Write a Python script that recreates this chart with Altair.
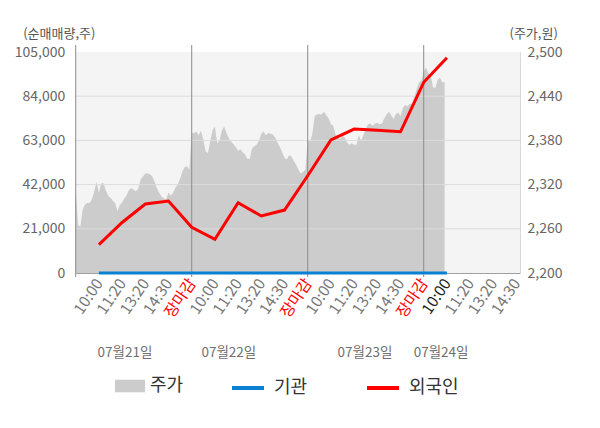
import altair as alt
import pandas as pd

FONT = "Noto Sans CJK KR"

# ---- price (주가, 원) sampled every 0.1 slot within each trading day ----
day1 = [2315, 2265, 2263, 2286, 2293, 2295, 2295, 2300, 2311, 2324,
        2309, 2322, 2322, 2312, 2305, 2302, 2298, 2295, 2284, 2292,
        2296, 2301, 2306, 2313, 2315, 2313, 2311, 2315, 2327, 2331,
        2335, 2335, 2334, 2331, 2324, 2315, 2309, 2304, 2301, 2300,
        2309, 2305, 2309, 2316, 2320, 2328, 2338, 2344, 2345, 2340]
day2 = [2390, 2390, 2392, 2387, 2393, 2381, 2365, 2363, 2379, 2394,
        2399, 2376, 2380, 2393, 2399, 2390, 2383, 2378, 2375, 2371,
        2366, 2368, 2364, 2361, 2355, 2355, 2369, 2372, 2374, 2380,
        2389, 2392, 2387, 2390, 2389, 2388, 2384, 2377, 2371, 2364,
        2356, 2354, 2360, 2358, 2352, 2347, 2340, 2335, 2337, 2340]
day3 = [2381, 2379, 2389, 2413, 2415, 2416, 2415, 2419, 2414, 2410,
        2402, 2400, 2388, 2384, 2382, 2386, 2384, 2377, 2374, 2376,
        2374, 2374, 2387, 2380, 2387, 2395, 2402, 2403, 2400, 2403,
        2404, 2402, 2403, 2410, 2415, 2419, 2414, 2409, 2416, 2418,
        2413, 2424, 2428, 2426, 2430, 2429, 2440, 2450, 2459, 2461]
day4 = [2474, 2479, 2471, 2469, 2452, 2451, 2462, 2465, 2459, 2459]
price_days = [day1, day2, day3, day4]
SLOTS_PER_DAY = 5
SAMPLE_STEP = 0.1

# ---- net buying (순매매량, 주) at each label slot ----
flow_slots = [1, 2, 3, 4, 5, 6, 7, 8, 9, 10, 11, 12, 13, 14, 15, 16]
institution = [0, 0, 0, 0, 0, 0, 0, 0, 0, 0, 0, 0, 0, 0, 0, 0]
foreign = [13500, 24000, 32800, 34200, 21700, 16000, 33400, 27100,
           29900, 46200, 63200, 68400, 67800, 67100, 90600, 102300]

# ---- axis labels ----
tick_slots = list(range(1, 20))
tick_labels = ["10:00", "11:20", "13:20", "14:30", "장마감",
               "10:00", "11:20", "13:20", "14:30", "장마감",
               "10:00", "11:20", "13:20", "14:30", "장마감",
               "10:00", "11:20", "13:20", "14:30"]
close_slots = [5, 10, 15]
current_slot = 16
day_starts = [0, 5, 10, 15]
date_labels = ["07월21일", "07월22일", "07월23일", "07월24일"]
date_pos = [2.125, 6.6, 12.47, 15.75]
left_ticks = [0, 21000, 42000, 63000, 84000, 105000]
grid_ticks = [21000, 42000, 63000, 84000]
right_ticks = [2200, 2260, 2320, 2380, 2440, 2500]

# ---- tables ----
price_rows = []
for d, vals in enumerate(price_days):
    for i, p in enumerate(vals):
        price_rows.append({"t": d * SLOTS_PER_DAY + i * SAMPLE_STEP, "price": p, "ps": "주가"})
price_df = pd.DataFrame(price_rows)

flow_rows = []
for s, v in zip(flow_slots, institution):
    flow_rows.append({"t": s, "v": v, "series": "기관"})
for s, v in zip(flow_slots, foreign):
    flow_rows.append({"t": s, "v": v, "series": "외국인"})
flow_df = pd.DataFrame(flow_rows)

grid_df = pd.DataFrame({"v": grid_ticks})
sep_df = pd.DataFrame({"t": day_starts})
date_df = pd.DataFrame({"t": date_pos, "label": date_labels})

W, H = 444.3, 221

xs = alt.Scale(domain=[0, 19.15], nice=False, zero=False)
ls = alt.Scale(domain=[0, 105000], nice=False, zero=False)
rs = alt.Scale(domain=[2200, 2500], nice=False, zero=False)

label_expr = "[" + ",".join("'%s'" % l for l in tick_labels) + "][datum.value - 1]"
close_test = " || ".join("datum.value == %d" % s for s in close_slots)

x_axis = alt.Axis(
    values=tick_slots, labelExpr=label_expr, labelAngle=-56,
    labelAlign="right", labelBaseline="middle", labelPadding=7,
    labelFontSize=15.5, labelFont=FONT,
    labelColor={"condition": [{"test": close_test, "value": "#ff0000"},
                              {"test": "datum.value == %d" % current_slot, "value": "#222222"}],
                "value": "#777777"},
    ticks=False, domain=True, domainColor="#a0a0a0", grid=False, title=None,
    labelOverlap=False, labelBound=False, labelFlush=False,
)

left_axis = alt.Axis(
    values=left_ticks, format=",.0f", orient="left", grid=False, domain=False,
    ticks=False, labelPadding=11, labelFontSize=14, labelFont=FONT,
    labelColor="#666666", title="(순매매량,주)", titleAngle=0,
    titleAlign="left", titleBaseline="alphabetic", titleX=-53, titleY=-15,
    titleFontSize=13, titleFontWeight="normal", titleColor="#555555",
    titleFont=FONT,
)

right_axis = alt.Axis(
    values=right_ticks, format=",.0f", orient="right", grid=False, domain=True,
    domainColor="#d8d8d8", ticks=False, labelPadding=7, labelFontSize=14,
    labelFont=FONT, labelColor="#666666", title="(주가,원)", titleAngle=0,
    titleAlign="left", titleBaseline="alphabetic", titleX=-11, titleY=-15,
    titleFontSize=13, titleFontWeight="normal", titleColor="#555555",
    titleFont=FONT,
)

X = alt.X("t:Q", scale=xs, axis=x_axis)

area = alt.Chart(price_df).mark_area(opacity=1, interpolate="linear").encode(
    x=X,
    y=alt.Y("price:Q", scale=rs, axis=right_axis),
    y2=alt.datum(2200),
    fill=alt.Fill("ps:N", scale=alt.Scale(domain=["주가"], range=["#cccccc"]),
                  legend=alt.Legend(title=None, orient="none", legendX=39.3, legendY=319,
                                    direction="horizontal",
                                    symbolType="M-1,-0.42H1V0.42H-1Z", symbolSize=900,
                                    symbolStrokeWidth=0, labelOffset=5,
                                    labelFontSize=18, labelFont=FONT, labelColor="#333333",
                                    padding=0)),
)

grid = alt.Chart(grid_df).mark_rule(color="#dcdcdc", strokeWidth=1).encode(
    y=alt.Y("v:Q", scale=ls, axis=left_axis),
)

seps = alt.Chart(sep_df).mark_rule(color="#8c8c8c", strokeWidth=1).encode(
    x=X,
    y=alt.value(-7),
    y2=alt.value(H + 4),
)

lines = alt.Chart(flow_df).mark_line(strokeWidth=3).encode(
    x=X,
    y=alt.Y("v:Q", scale=ls, axis=left_axis),
    stroke=alt.Stroke("series:N",
                      scale=alt.Scale(domain=["기관", "외국인"], range=["#0a80d0", "#ff0000"]),
                      legend=alt.Legend(title=None, orient="none", legendX=154.3, legendY=318,
                                        direction="horizontal", symbolType="stroke",
                                        symbolSize=1024, symbolStrokeWidth=4,
                                        labelOffset=8, columnPadding=51,
                                        labelFontSize=18, labelFont=FONT,
                                        labelColor="#333333", padding=0)),
    order=alt.Order("series:N"),
)

dates = alt.Chart(date_df).mark_text(font=FONT, fontSize=13.5, color="#707070",
                                     align="center", baseline="middle").encode(
    x=X,
    y=alt.value(301),
    text="label:N",
)

inner = alt.layer(grid, seps, lines, dates)

chart = alt.layer(area, inner).resolve_scale(y="independent").properties(
    width=W, height=H,
    autosize=alt.AutoSizeParams(type="none"),
    padding={"left": 67.7, "top": 44, "right": 72, "bottom": 147},
    background="white",
).configure_view(fill="#f4f4f4", stroke=None)

chart.save("out.html", embed_options={"renderer": "svg", "actions": False})
